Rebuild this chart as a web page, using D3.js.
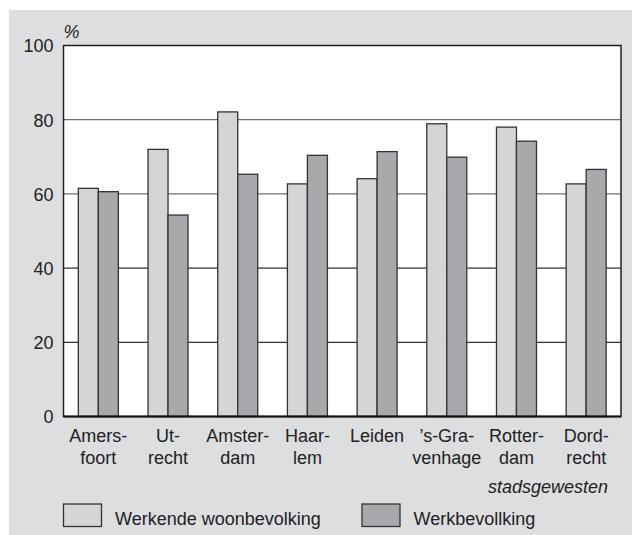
<!DOCTYPE html>
<html>
<head>
<meta charset="utf-8">
<script src="https://cdn.jsdelivr.net/npm/d3@7"></script>
<style>
  body { margin: 0; background: #fff; }
  svg { display: block; font-family: "Liberation Sans", Arial, sans-serif; }
  .axis text { font-size: 18px; fill: #222; }
</style>
</head>
<body>
<div id="chart"></div>
<script>
var cities = [["Amers-", "foort"], ["Ut-", "recht"], ["Amster-", "dam"], ["Haar-", "lem"],
              ["Leiden"], ["\u2019s-Gra-", "venhage"], ["Rotter-", "dam"], ["Dord-", "recht"]];
var woonbevolking = [61.5, 72.0, 82.1, 62.7, 64.1, 78.9, 78.0, 62.7];
var werkbevolking = [60.6, 54.3, 65.3, 70.4, 71.4, 69.9, 74.2, 66.6];
var seriesNames = ["Werkende woonbevolking", "Werkbevollking"];
var yTicks = [0, 20, 40, 60, 80, 100];

var W = 632, H = 535,
    margin = { top: 45.5, right: 11, bottom: 118.5, left: 63.5 },
    width = W - margin.left - margin.right,
    height = H - margin.top - margin.bottom;

var colors = ["#d4d5d7", "#a8a9ad"];

var svg = d3.select("#chart").append("svg")
    .attr("width", W)
    .attr("height", H)

// grey panel
svg.append("rect")
    .attr("x", 9).attr("y", 10)
    .attr("width", W - 9).attr("height", H - 10)
    .attr("fill", "#dddee0")

var g = svg.append("g")
    .attr("transform", "translate(" + margin.left + "," + margin.top + ")")

g.append("rect")
    .attr("width", width).attr("height", height)
    .attr("fill", "#fff")

var x0 = d3.scaleBand()
    .domain(d3.range(cities.length))
    .range([0, width])

var x1 = d3.scaleBand()
    .domain([0, 1])
    .range([x0.bandwidth() / 2 - 20, x0.bandwidth() / 2 + 20])

var y = d3.scaleLinear()
    .domain([0, 100])
    .range([height, 0])

// gridlines
g.selectAll("line.grid")
    .data(yTicks.filter(function (d) { return d > 0 && d < 100 }))
    .enter().append("line")
    .attr("class", "grid")
    .attr("x1", 0).attr("x2", width)
    .attr("y1", function (d) { return y(d) })
    .attr("y2", function (d) { return y(d) })
    .attr("stroke", function (d) { return d >= 60 ? "#6e6e6e" : "#333" })
    .attr("stroke-width", 1.3)

// bars
var groups = g.selectAll("g.city")
    .data(cities.map(function (c, i) { return [woonbevolking[i], werkbevolking[i]] }))
    .enter().append("g")
    .attr("class", "city")
    .attr("transform", function (d, i) { return "translate(" + x0(i) + ",0)" })

groups.selectAll("rect")
    .data(function (d) { return d })
    .enter().append("rect")
    .attr("x", function (d, j) { return x1(j) })
    .attr("width", x1.bandwidth())
    .attr("y", function (d) { return y(d) })
    .attr("height", function (d) { return height - y(d) })
    .attr("fill", function (d, j) { return colors[j] })
    .attr("stroke", "#333")
    .attr("stroke-width", 1.3)

// frame
g.append("rect")
    .attr("width", width).attr("height", height)
    .attr("fill", "none")
    .attr("stroke", "#222")
    .attr("stroke-width", 1.5)

g.append("line")
    .attr("x1", 0).attr("x2", width)
    .attr("y1", height).attr("y2", height)
    .attr("stroke", "#111")
    .attr("stroke-width", 2)

// y axis
var yAxis = g.append("g")
    .attr("class", "axis")
    .call(d3.axisLeft(y).tickValues(yTicks).tickSize(0).tickPadding(10))
yAxis.select(".domain").remove()
yAxis.selectAll("text").attr("dy", "0.36em")

g.append("text")
    .attr("x", 0).attr("y", -8)
    .attr("font-size", 18)
    .attr("font-style", "italic")
    .attr("fill", "#222")
    .text("%")

// x labels
var xl = g.selectAll("text.xlab")
    .data(cities)
    .enter().append("text")
    .attr("class", "xlab")
    .attr("text-anchor", "middle")
    .attr("font-size", 18)
    .attr("fill", "#222")
    .attr("transform", function (d, i) { return "translate(" + (x0(i) + x0.bandwidth() / 2) + "," + (height + 25) + ")" })

xl.selectAll("tspan")
    .data(function (d) { return d })
    .enter().append("tspan")
    .attr("x", 0)
    .attr("y", function (d, j) { return j * 22 })
    .text(function (d) { return d })

svg.append("text")
    .attr("x", 608).attr("y", 493)
    .attr("text-anchor", "end")
    .attr("font-size", 18)
    .attr("font-style", "italic")
    .attr("fill", "#222")
    .text("stadsgewesten")

// legend
var legendX = [63.5, 362];
var legend = svg.selectAll("g.legend")
    .data(seriesNames)
    .enter().append("g")
    .attr("class", "legend")
    .attr("transform", function (d, i) { return "translate(" + legendX[i] + ",504)" })

legend.append("rect")
    .attr("width", 38).attr("height", 22.5)
    .attr("fill", function (d, i) { return colors[i] })
    .attr("stroke", "#333")
    .attr("stroke-width", 1.3)

legend.append("text")
    .attr("x", 51.5).attr("y", 21)
    .attr("font-size", 18)
    .attr("fill", "#222")
    .text(function (d) { return d })
</script>
</body>
</html>
